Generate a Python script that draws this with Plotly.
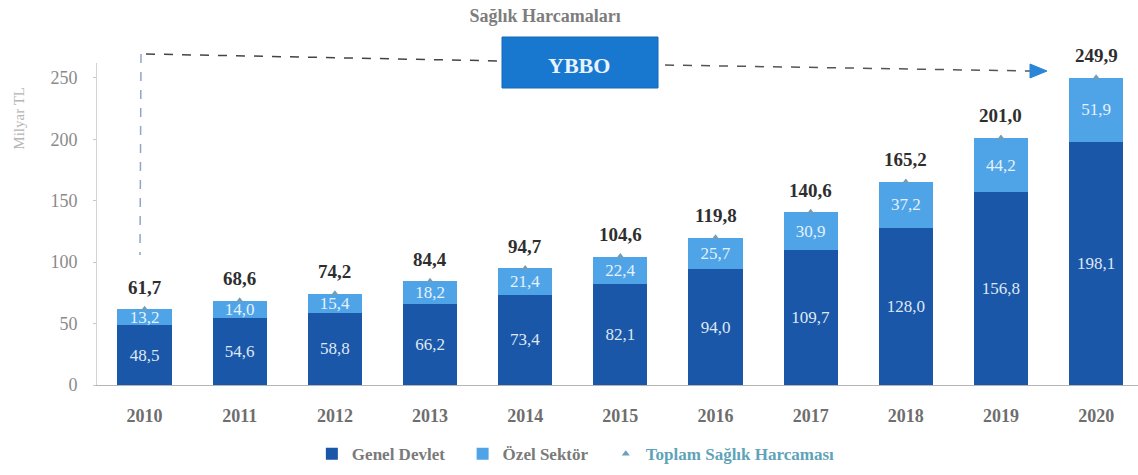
import plotly.graph_objects as go

years = ["2010", "2011", "2012", "2013", "2014", "2015", "2016", "2017", "2018", "2019", "2020"]
genel_devlet = [48.5, 54.6, 58.8, 66.2, 73.4, 82.1, 94.0, 109.7, 128.0, 156.8, 198.1]
ozel_sektor = [13.2, 14.0, 15.4, 18.2, 21.4, 22.4, 25.7, 30.9, 37.2, 44.2, 51.9]
toplam = [61.7, 68.6, 74.2, 84.4, 94.7, 104.6, 119.8, 140.6, 165.2, 201.0, 249.9]
y_ticks = [0, 50, 100, 150, 200, 250]

def tr(v):
    return f"{v:.1f}".replace(".", ",")

SERIF = "Liberation Serif, DejaVu Serif, serif"
DARK = "#1b57a8"
LIGHT = "#4fa4e8"
TRI = "#6b9fbd"

fig = go.Figure()
fig.add_trace(go.Bar(
    x=years, y=genel_devlet, name="<b>Genel Devlet</b>&nbsp;&nbsp;&nbsp;",
    marker=dict(color=DARK, line=dict(width=0)),
    text=[tr(v) for v in genel_devlet], textposition="inside",
    insidetextanchor="middle", constraintext="none",
    textfont=dict(family=SERIF, size=17, color="#dfe8f5"),
))
fig.add_trace(go.Bar(
    x=years, y=ozel_sektor, name="<b>Özel Sektör</b>&nbsp;&nbsp;&nbsp;",
    marker=dict(color=LIGHT, line=dict(width=0)),
    text=[tr(v) for v in ozel_sektor], textposition="inside",
    insidetextanchor="middle", constraintext="none",
    textfont=dict(family=SERIF, size=17, color="#e6f1fb"),
))
fig.add_trace(go.Scatter(
    x=years, y=toplam, mode="markers",
    name="<b><span style='color:#5fa3b8'>Toplam Sağlık Harcaması</span></b>",
    marker=dict(symbol="triangle-up", size=7, color=TRI),
    cliponaxis=False,
))

# total value labels above bars (category index positions)
for i, v in enumerate(toplam):
    fig.add_annotation(x=i, y=v, text="<b>" + tr(v) + "</b>", showarrow=False,
                       yshift=22, xanchor="center", yanchor="middle",
                       font=dict(family=SERIF, size=19, color="#2e2e2e"))

fig.update_layout(
    width=1138, height=475,
    paper_bgcolor="white", plot_bgcolor="white",
    margin=dict(l=97, r=0, t=63, b=90),
    barmode="stack", bargap=0.43,
    showlegend=True,
    legend=dict(orientation="h", x=0.46, xanchor="center", y=-0.215, yanchor="middle",
                font=dict(family=SERIF, size=17, color="#7a7a7a"),
                itemwidth=30, traceorder="normal"),
    title=dict(text="<b>Sağlık Harcamaları</b>", x=0.479, xanchor="center", y=0.968, yanchor="middle",
               font=dict(family=SERIF, size=18, color="#7d7d7d")),
    font=dict(family=SERIF),
)
fig.update_xaxes(
    type="category", range=[-0.5, 10.44],
    showline=True, linecolor="#b5b5b5", linewidth=1,
    ticks="", showgrid=False,
    tickfont=dict(family=SERIF, size=18, color="#6e6e6e"),
    ticklabelstandoff=14, tickprefix="<b>", ticksuffix="</b>",
)
fig.update_yaxes(
    range=[0, 262], tickvals=y_ticks,
    showline=True, linecolor="#d3d3d3", linewidth=1,
    ticks="outside", ticklen=3, tickcolor="#c8c8c8",
    showgrid=False, zeroline=False,
    tickfont=dict(family=SERIF, size=18, color="#8a8a8a"),
    ticklabelstandoff=12,
)

# Y-axis title
fig.add_annotation(xref="paper", yref="paper", x=-0.075, y=0.83, text="Milyar TL",
                   textangle=-90, showarrow=False, xanchor="center", yanchor="middle",
                   font=dict(family=SERIF, size=15, color="#b5b5b5"))

# YBBO callout box and dashed connector
fig.add_shape(type="rect", xref="paper", yref="paper",
              x0=(502 - 97) / 1041, x1=(658 - 97) / 1041,
              y0=(385 - 88) / 322, y1=(385 - 37) / 322,
              fillcolor="#1877cf", line=dict(color="#1469b8", width=1), layer="above")
fig.add_annotation(xref="paper", yref="paper", x=(579 - 97) / 1041, y=(385 - 65) / 322,
                   text="<b>YBBO</b>", showarrow=False, xanchor="center", yanchor="middle",
                   font=dict(family=SERIF, size=22, color="#e8f3ff"))
# vertical dashed line
fig.add_shape(type="line", xref="paper", yref="paper",
              x0=(141 - 97) / 1041, x1=(140 - 97) / 1041,
              y0=(385 - 54) / 322, y1=(385 - 255) / 322,
              line=dict(color="#8ea5cc", width=1.5, dash="dash"))
# horizontal dashed line, left part
fig.add_shape(type="line", xref="paper", yref="paper",
              x0=(146 - 97) / 1041, x1=(502 - 97) / 1041,
              y0=(385 - 54) / 322, y1=(385 - 61) / 322,
              line=dict(color="#444444", width=1.5, dash="dash"))
# horizontal dashed line, right part with arrowhead
fig.add_shape(type="line", xref="paper", yref="paper",
              x0=(665 - 97) / 1041, x1=(1030 - 97) / 1041,
              y0=(385 - 65) / 322, y1=(385 - 71) / 322,
              line=dict(color="#555555", width=1.5, dash="dash"))
fig.add_shape(type="path", xref="paper", yref="paper",
              path="M {} {} L {} {} L {} {} Z".format(
                  (1030 - 97) / 1041, (385 - 64) / 322,
                  (1047 - 97) / 1041, (385 - 71) / 322,
                  (1030 - 97) / 1041, (385 - 78) / 322),
              fillcolor="#2a86d6", line=dict(color="#2a86d6", width=1))

fig.write_html("out.html", config={"displayModeBar": False},
               post_script="document.body.style.margin='0';")
